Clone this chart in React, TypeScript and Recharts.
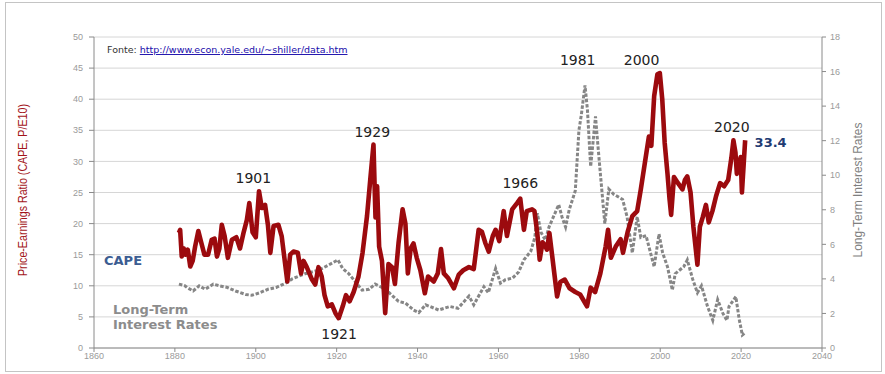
import React from "react";
import {
  ComposedChart,
  Line,
  XAxis,
  YAxis,
  CartesianGrid,
  ReferenceDot,
} from "recharts";

// CAPE (Shiller P/E10)
const capeYears = [
  1881.0, 1881.3, 1881.7, 1882.2, 1882.6, 1883.2, 1883.8, 1884.4, 1885.0, 1885.8,
  1886.5, 1887.3, 1888.2, 1889.1, 1889.8, 1890.4, 1891.0, 1891.6, 1892.3, 1893.1,
  1894.1, 1895.2, 1896.1, 1897.0, 1897.8, 1898.4, 1899.2, 1900.0, 1900.8, 1901.5,
  1902.3, 1903.0, 1903.6, 1904.4, 1905.6, 1906.4, 1907.8, 1908.5, 1909.3, 1910.4,
  1911.2, 1911.8, 1912.6, 1913.9, 1914.7, 1915.5, 1916.3, 1917.0, 1917.8, 1918.8,
  1919.7, 1920.5, 1921.5, 1922.3, 1923.2, 1924.2, 1925.4, 1926.4, 1927.5, 1928.3,
  1929.1, 1929.6, 1930.0, 1930.5, 1931.2, 1932.0, 1932.8, 1933.7, 1934.4, 1935.3,
  1936.3, 1937.0, 1937.6, 1938.3, 1939.0, 1939.8, 1940.7, 1941.8, 1942.6, 1944.0,
  1945.0, 1945.8, 1946.5, 1947.6, 1949.0, 1950.2, 1951.3, 1952.7, 1953.9, 1955.1,
  1955.9, 1956.8, 1957.6, 1958.6, 1959.3, 1960.2, 1961.3, 1962.1, 1963.4, 1964.6,
  1965.4, 1966.3, 1967.0, 1968.3, 1968.9, 1969.6, 1970.2, 1970.9, 1971.5, 1972.0,
  1972.6, 1973.7, 1974.5, 1975.3, 1976.4, 1977.6, 1979.0, 1980.2, 1981.1, 1981.9,
  1982.8, 1983.9, 1985.2, 1986.5, 1987.1, 1987.8, 1989.0, 1990.2, 1990.8, 1992.0,
  1993.1, 1994.3, 1995.2, 1996.4, 1997.2, 1997.8, 1998.5, 1999.3, 1999.9, 2000.5,
  2001.1, 2001.8, 2002.3, 2002.7, 2003.4, 2004.4, 2005.5, 2006.1, 2006.7, 2007.5,
  2008.2, 2009.2, 2009.8, 2010.5, 2011.3, 2012.0, 2012.9, 2013.8, 2014.8, 2015.8,
  2016.8, 2017.6, 2018.1, 2018.6, 2018.95, 2019.9, 2020.2, 2021.0,
];
const capeValues = [
  18.5, 19.0, 14.7, 16.0, 15.0, 15.8, 13.1, 14.0, 16.3, 18.8,
  17.0, 15.0, 15.0, 17.4, 17.6, 14.7, 16.0, 19.8, 18.0, 14.5,
  17.4, 17.8, 16.0, 18.6, 20.6, 23.3, 18.6, 17.8, 25.2, 22.5,
  23.0, 19.8, 15.3, 19.6, 19.8, 18.0, 10.7, 15.0, 15.5, 15.3,
  12.0, 14.0, 13.0, 11.0, 10.2, 13.0, 11.5, 8.5, 6.7, 7.0,
  5.6, 4.8, 6.7, 8.5, 7.5, 9.0, 11.5, 15.3, 21.2, 27.0,
  32.7, 21.0, 26.0, 16.3, 14.0, 5.6, 13.5, 13.0, 10.3, 16.9,
  22.3, 20.0, 12.0, 16.0, 16.8, 14.5, 12.5, 8.8, 11.5, 10.7,
  12.0, 15.9, 12.0, 11.2, 9.6, 11.8, 12.5, 13.0, 12.7, 19.0,
  18.7, 16.8, 15.5, 18.0, 19.0, 17.2, 22.0, 18.0, 22.3, 23.3,
  24.0, 19.0, 22.0, 22.3, 22.0, 18.5, 14.2, 17.0, 16.5, 15.8,
  18.5, 12.6, 8.3, 10.6, 11.0, 9.6, 9.0, 8.6, 7.6, 6.7,
  9.7, 9.0, 12.0, 16.3, 19.0, 14.5, 16.3, 17.5, 15.3, 18.8,
  21.2, 22.0, 25.5, 30.6, 34.0, 32.5, 40.5, 44.0, 44.2, 40.0,
  33.0, 28.0, 24.0, 21.4, 27.5, 26.5, 25.5, 27.0, 27.6, 25.0,
  19.5, 13.4, 19.5, 21.0, 23.0, 20.2, 22.0, 24.4, 26.5, 26.0,
  27.0, 30.6, 33.4, 31.4, 28.0, 30.7, 25.0, 33.4,
];

// long-term interest rates (%), right axis
const rateYears = [
  1881, 1882.5, 1883, 1884.5, 1886, 1887.5, 1889.5, 1891, 1893, 1895,
  1897.5, 1899, 1901, 1903, 1905, 1907.3, 1909, 1912.2, 1915.5, 1918,
  1920.3, 1921.5, 1923, 1926.3, 1928, 1929.5, 1931.2, 1932.5, 1935.3, 1937,
  1939, 1940.3, 1942, 1945.2, 1948, 1950, 1952.7, 1953.9, 1956.4, 1957.5,
  1959.3, 1960.5, 1961.7, 1963.5, 1965, 1966.3, 1968, 1969, 1969.6, 1970.5,
  1971.6, 1972.5, 1974.9, 1975.7, 1976.6, 1977.5, 1979, 1979.9, 1980.5, 1981.4,
  1982.0, 1982.8, 1984, 1984.6, 1985.5, 1986.3, 1987.3, 1988.5, 1990.7, 1991.8,
  1993.1, 1994.3, 1995.2, 1996.5, 1998.5, 1999.7, 2000.6, 2001.8, 2003.0, 2003.7,
  2005.8, 2006.7, 2008.0, 2009.2, 2010.2, 2011.7, 2013.0, 2014.2, 2015.5, 2016.5,
  2017, 2018.7, 2019.5, 2020.3, 2020.8,
];
const rateValues = [
  3.7, 3.6, 3.5, 3.3, 3.6, 3.4, 3.7, 3.6, 3.5, 3.3,
  3.1, 3.05, 3.2, 3.4, 3.5, 3.74, 4.0, 4.3, 4.5, 4.8,
  5.1, 4.6, 4.3, 3.35, 3.4, 3.7, 3.5, 3.3, 2.7, 2.6,
  2.2, 2.05, 2.5, 2.2, 2.4, 2.3, 3.0, 2.5, 3.55, 3.2,
  4.6, 3.75, 3.95, 4.05, 4.4, 5.1, 5.6, 6.4, 7.8, 6.7,
  6.25, 7.0, 8.3, 7.6, 7.0, 8.0, 9.1, 12.6, 13.5, 15.2,
  13.8, 10.5, 13.4, 11.7, 9.3, 7.2, 9.2, 8.9, 8.6, 7.6,
  5.5, 7.6, 6.4, 6.5, 4.7, 6.6, 5.5, 4.7, 3.35, 4.3,
  4.7, 5.1, 4.0, 3.2, 3.6, 2.4, 1.6, 2.8, 2.0, 1.6,
  2.4, 2.97, 1.7, 0.75, 0.85,
];

const yearTicks = [1860, 1880, 1900, 1920, 1940, 1960, 1980, 2000, 2020, 2040];
const capeTicks = [0, 5, 10, 15, 20, 25, 30, 35, 40, 45, 50];
const rateTicks = [0, 2, 4, 6, 8, 10, 12, 14, 16, 18];

const peakLabels = ["1901", "1929", "1921", "1966", "1981", "2000", "2020"];
// where each label sits, in chart units (year, CAPE)
const peakAnchors: [number, number][] = [
  [1899.4, 27.4],
  [1928.8, 34.7],
  [1920.6, 2.3],
  [1965.4, 26.5],
  [1979.6, 46.3],
  [1995.4, 46.3],
  [2017.7, 35.6],
];

const capeData = capeYears.map((year, i) => ({ year, cape: capeValues[i] }));
const rateData = rateYears.map((year, i) => ({ year, rate: rateValues[i] }));

const tickStyle = { fill: "#9a9a9a", fontSize: 9, fontFamily: "Liberation Sans, Arial" };
const annoFont = "DejaVu Sans, Verdana, sans-serif";

export default function App() {
  return (
    <div
      style={{
        position: "absolute",
        left: 0,
        top: 0,
        width: 885,
        height: 374,
        background: "#fff",
      }}
    >
      <div
        style={{
          position: "absolute",
          left: 5,
          top: 2,
          width: 875,
          height: 368,
          border: "1px solid #c4c4c4",
        }}
      />
      <ComposedChart
        width={885}
        height={374}
        margin={{ top: 37, right: 33, bottom: 6, left: 54 }}
        style={{ position: "absolute", left: 0, top: 0 }}
      >
        <CartesianGrid yAxisId="left" vertical={false} stroke="#d6d6d6" />
        <XAxis
          type="number"
          dataKey="year"
          domain={[1860, 2040]}
          ticks={yearTicks}
          interval={0}
          height={20}
          tick={tickStyle}
          tickSize={4}
          tickMargin={1}
          stroke="#8a8a8a"
          allowDataOverflow
        />
        <YAxis
          yAxisId="left"
          domain={[0, 50]}
          ticks={capeTicks}
          interval={0}
          width={40}
          tick={tickStyle}
          tickSize={5}
          tickMargin={6}
          stroke="#8a8a8a"
        />
        <YAxis
          yAxisId="right"
          orientation="right"
          domain={[0, 18]}
          ticks={rateTicks}
          interval={0}
          width={30}
          tick={tickStyle}
          tickSize={4}
          tickMargin={4}
          stroke="#8a8a8a"
        />
        <Line
          yAxisId="right"
          data={rateData}
          dataKey="rate"
          type="linear"
          dot={false}
          stroke="#868686"
          strokeWidth={3}
          strokeDasharray="3.5 1.8"
          isAnimationActive={false}
        />
        <Line
          yAxisId="left"
          data={capeData}
          dataKey="cape"
          type="linear"
          dot={false}
          stroke="#9c0a0e"
          strokeWidth={4.6}
          strokeLinejoin="round"
          isAnimationActive={false}
        />
        {peakLabels.map((txt, i) => (
          <ReferenceDot
            key={txt}
            yAxisId="left"
            x={peakAnchors[i][0]}
            y={peakAnchors[i][1]}
            r={1}
            fill="none"
            stroke="none"
            label={{
              value: txt,
              position: "center",
              fill: "#222",
              fontSize: 14,
              fontFamily: annoFont,
            }}
          />
        ))}
        <ReferenceDot
          yAxisId="left"
          x={2027.3}
          y={33.1}
          r={1}
          fill="none"
          stroke="none"
          label={{
            value: "33.4",
            position: "center",
            fill: "#1f3b73",
            fontSize: 13,
            fontWeight: "bold",
            fontFamily: annoFont,
          }}
        />
      </ComposedChart>
      <svg
        width={885}
        height={374}
        style={{ position: "absolute", left: 0, top: 0, pointerEvents: "none" }}
      >
        <text
          transform="translate(27,190) rotate(-90)"
          textAnchor="middle"
          fill="#a3161b"
          fontSize={13}
          fontFamily="Liberation Sans Narrow, Arial Narrow, sans-serif"
          textLength={172}
          lengthAdjust="spacingAndGlyphs"
        >
          Price-Earnings Ratio (CAPE, P/E10)
        </text>
        <text
          transform="translate(862,190) rotate(-90)"
          textAnchor="middle"
          fill="#7f7f7f"
          fontSize={13}
          fontFamily="Liberation Sans Narrow, Arial Narrow, sans-serif"
          textLength={135}
          lengthAdjust="spacingAndGlyphs"
        >
          Long-Term Interest Rates
        </text>
        <text x={104} y={265} fill="#3c5d92" fontSize={13} fontWeight="bold" fontFamily={annoFont}>
          CAPE
        </text>
        <text x={113} y={314} fill="#8c8c8c" fontSize={13} fontWeight="bold" fontFamily={annoFont}>
          Long-Term
        </text>
        <text x={113} y={329} fill="#8c8c8c" fontSize={13} fontWeight="bold" fontFamily={annoFont}>
          Interest Rates
        </text>
        <text x={107} y={53} fontSize={9.5} fontFamily={annoFont} fill="#333">
          Fonte:{" "}
          <tspan fill="#1a0dab" textDecoration="underline">
            http://www.econ.yale.edu/~shiller/data.htm
          </tspan>
        </text>
      </svg>
    </div>
  );
}
